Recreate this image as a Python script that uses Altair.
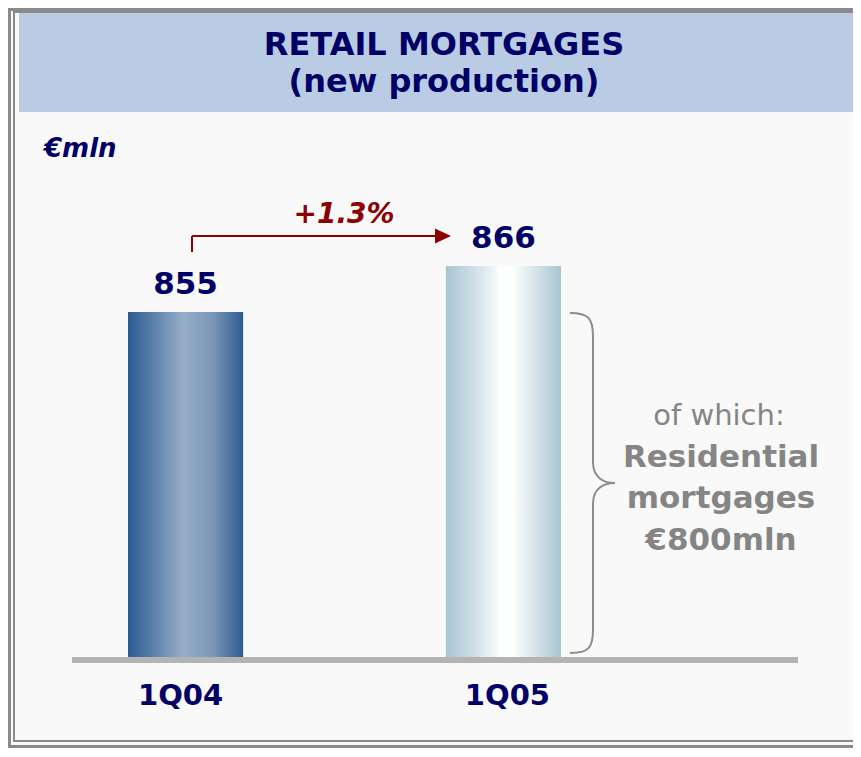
import altair as alt
import pandas as pd

# ---- data ----
categories = ["1Q04", "1Q05"]
values = [855, 866]
growth_label = "+1.3%"
title_lines = ["RETAIL MORTGAGES", "(new production)"]
unit_label = "€mln"
note_lines = ["of which:", "Residential", "mortgages", "€800mln"]

W, H = 845, 740
NAVY = "#000066"
RED = "#8b0000"
GREY_TXT = "#858585"

df = pd.DataFrame({"cat": categories, "val": values})

xscale = alt.Scale(domain=categories, range=[120, 553], paddingInner=0.6378, paddingOuter=0)
Y_LO = 772.5
yscale = alt.Scale(domain=[Y_LO, 927.7], range=[649, 0], zero=False, nice=False)

X = alt.X("cat:N", scale=xscale, axis=None)
Y = alt.Y("val:Q", scale=yscale, axis=None)

one = pd.DataFrame({"k": [0]})

def rect(x, x2, y, y2, **kw):
    return alt.Chart(one).mark_rect(**kw).encode(
        x=alt.value(x), x2=alt.value(x2), y=alt.value(y), y2=alt.value(y2))

bg = rect(0, W + 10, 0, H + 10, fill="#f9f9f9")
outer = rect(1.5, W + 20, 1.5, H - 1.5, fill=None, stroke="#8a8a8a", strokeWidth=3, filled=False)
inner = rect(6, W + 20, 4, H - 7, fill=None, stroke="#8a8a8a", strokeWidth=2, filled=False)
band = rect(11, W + 10, 5, 104, fill="#b9cce4")

def txt(s, x, y, size, color, weight="bold", style="normal", align="center", font="DejaVu Sans"):
    return alt.Chart(pd.DataFrame({"t": [s]})).mark_text(
        fontSize=size, fontWeight=weight, fontStyle=style, color=color,
        align=align, baseline="alphabetic", font=font
    ).encode(x=alt.value(x), y=alt.value(y), text="t:N")

title1 = txt(title_lines[0], 436, 47, 32, NAVY)
title2 = txt(title_lines[1], 436, 84, 32, NAVY)
unit = txt(unit_label, 36, 149, 26, NAVY, style="italic", align="left")

grad1 = alt.Gradient(
    gradient="linear", x1=0, x2=1, y1=0, y2=0,
    stops=[
        alt.GradientStop(offset=0, color="#2d5c91"),
        alt.GradientStop(offset=0.2, color="#557ca8"),
        alt.GradientStop(offset=0.48, color="#97aec9"),
        alt.GradientStop(offset=0.75, color="#7894b7"),
        alt.GradientStop(offset=1, color="#2d5c91"),
    ])
grad2 = alt.Gradient(
    gradient="linear", x1=0, x2=1, y1=0, y2=0,
    stops=[
        alt.GradientStop(offset=0, color="#a9c5d3"),
        alt.GradientStop(offset=0.25, color="#cfdfe7"),
        alt.GradientStop(offset=0.47, color="#fbfdfe"),
        alt.GradientStop(offset=0.57, color="#ffffff"),
        alt.GradientStop(offset=1, color="#a9c5d3"),
    ])

bar1 = alt.Chart(df).transform_filter(alt.datum.cat == categories[0]).mark_bar(
    color=grad1).encode(x=X, y=Y, y2=alt.Y2(datum=Y_LO))
bar2 = alt.Chart(df).transform_filter(alt.datum.cat == categories[1]).mark_bar(
    color=grad2).encode(x=X, y=Y, y2=alt.Y2(datum=Y_LO))

baseline = rect(64, 790, 649, 655, fill="#b3b3b3")

val_labels = alt.Chart(df).mark_text(
    fontSize=31, fontWeight="bold", color=NAVY, baseline="alphabetic", dy=-18,
    font="DejaVu Sans").encode(x=X, y=Y, text="val:Q")

def cat_label(i, dx):
    return alt.Chart(df).transform_filter(alt.datum.cat == categories[i]).mark_text(
        fontSize=29, fontWeight="bold", color=NAVY, baseline="alphabetic", dx=dx,
        font="DejaVu Sans").encode(x=X, y=alt.value(697), text="cat:N")

cat1 = cat_label(0, -5)
cat2 = cat_label(1, 4)

# growth arrow
arrow_line = alt.Chart(one).mark_rule(color=RED, strokeWidth=2).encode(
    x=alt.value(184), x2=alt.value(430), y=alt.value(228))
arrow_tick = alt.Chart(one).mark_rule(color=RED, strokeWidth=2).encode(
    x=alt.value(184), y=alt.value(228), y2=alt.value(244))
arrow_head = alt.Chart(one).mark_point(
    shape="M -1 -0.94 L 1 0 L -1 0.94 Z", size=256, filled=True, color=RED, opacity=1
).encode(x=alt.value(435), y=alt.value(228))
growth = txt(growth_label, 336, 215, 28, RED, style="italic")

# brace
brace = alt.Chart(one).mark_point(
    shape="M -0.13 -1 C -0.02 -1 0.006 -0.97 0.006 -0.86 L 0.006 -0.12 C 0.006 -0.04 0.06 0 0.135 0 "
          "C 0.06 0 0.006 0.04 0.006 0.12 L 0.006 0.86 C 0.006 0.97 -0.02 1 -0.13 1",
    size=115600, filled=False, stroke="#8c8c8c", strokeWidth=2, opacity=1
).encode(x=alt.value(584), y=alt.value(475))

note0 = txt(note_lines[0], 711, 417, 29, GREY_TXT, weight="normal")
note1 = txt(note_lines[1], 713, 459, 31, GREY_TXT)
note2 = txt(note_lines[2], 713, 500, 31, GREY_TXT)
note3 = txt(note_lines[3], 713, 542, 31, GREY_TXT)

chart = alt.layer(
    bg, outer, inner, band, title1, title2, unit,
    bar1, bar2, baseline, val_labels, cat1, cat2,
    arrow_line, arrow_tick, arrow_head, growth,
    brace, note0, note1, note2, note3,
).properties(
    width=W, height=H, autosize=alt.AutoSizeParams(type="none"), padding=0,
    background="white"
).configure_view(stroke=None)

chart.save("out.html", embed_options={"renderer": "svg", "actions": False})
